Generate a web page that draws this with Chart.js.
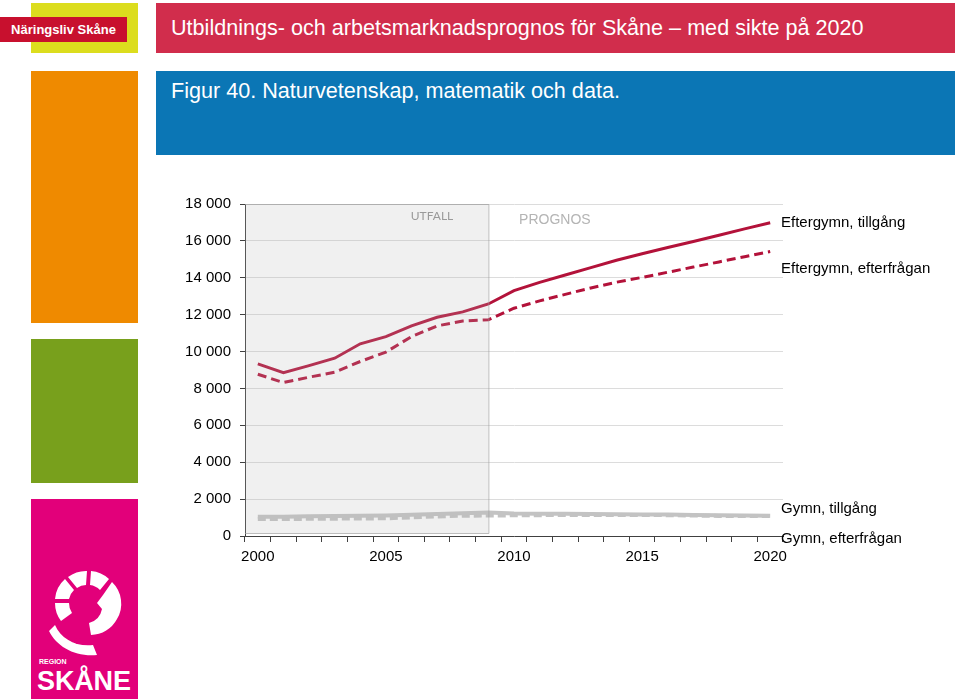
<!DOCTYPE html>
<html lang="sv">
<head>
<meta charset="utf-8">
<title>Figur 40. Naturvetenskap, matematik och data.</title>
<script src="https://cdn.jsdelivr.net/npm/chart.js@4.4.1/dist/chart.umd.min.js"></script>
<style>
  body { margin: 0; background: #fff; font-family: "Liberation Sans", Arial, sans-serif; }
  .page { position: relative; width: 960px; height: 700px; overflow: hidden; }
  .blk { position: absolute; }
  .yellow { left: 31px; top: 3px; width: 107px; height: 50px; background: #dcdd1e; }
  .logo1 { left: 0; top: 17px; width: 127px; height: 25px; background: #c8102e; color: #fff;
    font: bold 13px "Liberation Sans Narrow", "Liberation Sans", Arial, sans-serif; line-height: 25px; text-align: center; }
  .orange { left: 31px; top: 71px; width: 107px; height: 252px; background: #ef8a00; }
  .green { left: 31px; top: 339px; width: 107px; height: 144px; background: #78a01c; }
  .magenta { left: 31px; top: 499px; width: 107px; height: 200px; background: #e2007a; }
  .head { left: 156px; top: 3px; width: 799px; height: 50px; background: #d12d4c; color: #fff;
    font-size: 21.6px; line-height: 50px; padding-left: 15px; box-sizing: border-box; }
  .fig { left: 156px; top: 71px; width: 799px; height: 84px; background: #0b76b5; color: #fff;
    font-size: 21.6px; padding: 7px 0 0 15px; box-sizing: border-box; }
  #chartBox { position: absolute; left: 0; top: 0; width: 960px; height: 700px; }
</style>
</head>
<body>
<div class="page">
  <div class="blk yellow"></div>
  <div class="blk logo1">Näringsliv Skåne</div>
  <div class="blk orange"></div>
  <div class="blk green"></div>
  <div class="blk magenta">
    <svg width="107" height="200" viewBox="0 0 107 200">
      <g fill="#fff">
        <path d="M30 122 A30 30 0 0 1 24 104 L38 104 A17 17 0 0 0 41 114 Z"/>
        <path d="M24 100 A30 30 0 0 1 34 80 L43 91 A17 17 0 0 0 38 100 Z"/>
        <path d="M37 78 A30 30 0 0 1 56 72 L55 86 A17 17 0 0 0 46 89 Z"/>
        <path d="M60 72 A30 30 0 0 1 78 80 L69 91 A17 17 0 0 0 59 86 Z"/>
        <path d="M81 83 A30 30 0 0 1 86 120 A30 30 0 0 1 60 136 L58 124 A18 18 0 0 0 71 110 L66 104 L72 96 Z"/>
        <path d="M24 126 C30 140 45 148 62 146 L66 156 C44 158 26 148 18 132 Z"/>
        <circle cx="47" cy="142" r="3" fill="#e2007a"/>
      </g>
      <text x="8" y="165" fill="#fff" font-size="7" font-weight="bold" font-family="Liberation Sans, Arial">REGION</text>
      <text x="6" y="191" fill="#fff" font-size="27" font-weight="bold" font-family="Liberation Sans Narrow, Liberation Sans, Arial" textLength="94">SKÅNE</text>
    </svg>
  </div>
  <div class="blk head">Utbildnings- och arbetsmarknadsprognos för Skåne – med sikte på 2020</div>
  <div class="blk fig">Figur 40. Naturvetenskap, matematik och data.</div>
  <div id="chartBox"><canvas id="chart" width="960" height="700"></canvas></div>
</div>
<script>
// Years on the category axis
const years = ["2000", "2001", "2002", "2003", "2004", "2005", "2006", "2007", "2008", "2009", "2010",
  "2011", "2012", "2013", "2014", "2015", "2016", "2017", "2018", "2019", "2020"];
const shownYears = ["2000", "2005", "2010", "2015", "2020"];

// Series values
const eftergymnTillgang = [9330, 8860, 9240, 9640, 10420, 10810, 11390, 11860, 12150, 12580, 13300,
  13750, 14150, 14550, 14950, 15300, 15640, 15970, 16310, 16650, 16980];
const eftergymnEfterfragan = [8770, 8320, 8610, 8880, 9460, 9970, 10810, 11390, 11660, 11720, 12350,
  12750, 13100, 13450, 13760, 14020, 14300, 14580, 14860, 15140, 15420];
const gymnTillgang = [1050, 1050, 1070, 1090, 1100, 1110, 1150, 1190, 1230, 1270, 1220,
  1210, 1200, 1190, 1180, 1170, 1160, 1140, 1120, 1110, 1100];
const gymnEfterfragan = [920, 920, 930, 940, 950, 960, 1010, 1060, 1100, 1110, 1120,
  1130, 1140, 1140, 1140, 1140, 1130, 1110, 1090, 1080, 1080];

const seriesNames = ["Eftergymn, tillgång", "Eftergymn, efterfrågan", "Gymn, tillgång", "Gymn, efterfrågan"];
const lastOutcomeYear = "2009";

// "18 000" style tick labels
function fmt(v) {
  return String(v).replace(/\B(?=(\d{3})+(?!\d))/g, " ");
}

const red = "#b3123a";
const grey = "#c3c3c3";

// Shaded "UTFALL" box plus labels drawn over the lines
const overlayPlugin = {
  id: "overlay",
  afterDatasetsDraw(chart) {
    const { ctx, chartArea, scales } = chart;
    const x = scales.x, y = scales.y;
    const right = x.getPixelForValue(years.indexOf(lastOutcomeYear));
    const bottom = y.getPixelForValue(0) - 3;
    ctx.save();
    ctx.fillStyle = "rgba(180,180,180,0.2)";
    ctx.fillRect(chartArea.left, chartArea.top, right - chartArea.left, bottom - chartArea.top);
    ctx.strokeStyle = "rgba(160,160,160,0.7)";
    ctx.lineWidth = 1;
    ctx.beginPath();
    ctx.moveTo(chartArea.left, chartArea.top + 0.5);
    ctx.lineTo(right + 0.5, chartArea.top + 0.5);
    ctx.lineTo(right + 0.5, bottom + 0.5);
    ctx.lineTo(chartArea.left, bottom + 0.5);
    ctx.stroke();

    ctx.textBaseline = "middle";
    ctx.fillStyle = "#9a9a9a";
    ctx.font = "12px Lato, 'Open Sans', sans-serif";
    ctx.textAlign = "center";
    ctx.fillText("UTFALL", x.getPixelForValue(6.8), y.getPixelForValue(17350));
    ctx.fillStyle = "#b4b4b4";
    ctx.font = "14px 'Liberation Sans', Arial, sans-serif";
    ctx.textAlign = "left";
    ctx.fillText("PROGNOS", x.getPixelForValue(10.2), y.getPixelForValue(17150));

    // series names at the right end, nudged apart like the original
    const nudge = [0, 17, -7, 23];
    ctx.fillStyle = "#000";
    ctx.font = "15px 'Liberation Sans', Arial, sans-serif";
    chart.data.datasets.forEach(function (ds, i) {
      const last = ds.data[ds.data.length - 1];
      ctx.fillText(ds.label, chartArea.right - 2, y.getPixelForValue(last) + nudge[i]);
    });
    ctx.restore();
  },
};

let ctx = document.getElementById("chart").getContext("2d");

let data = {
  labels: years,
  datasets: [
    { label: seriesNames[0], data: eftergymnTillgang, borderColor: red, borderWidth: 3 },
    { label: seriesNames[1], data: eftergymnEfterfragan, borderColor: red, borderWidth: 3, borderDash: [9, 5] },
    { label: seriesNames[2], data: gymnTillgang, borderColor: grey, borderWidth: 4 },
    { label: seriesNames[3], data: gymnEfterfragan, borderColor: grey, borderWidth: 4, borderDash: [8, 4] },
  ],
};

let options = {
  responsive: false,
  animation: false,
  layout: { padding: { left: 160, top: 204, right: 177, bottom: 130 } },
  elements: {
    point: { radius: 0 },
    line: { tension: 0, fill: false, borderCapStyle: "butt" },
  },
  plugins: {
    legend: { display: false },
    tooltip: { enabled: false },
  },
  scales: {
    x: {
      offset: true,
      grid: { offset: true, drawOnChartArea: false, tickLength: 6, tickColor: "#404040" },
      border: { color: "#404040", width: 1 },
      ticks: {
        autoSkip: false,
        maxRotation: 0,
        padding: 6,
        color: "#000",
        font: { family: "'Liberation Sans', Arial, sans-serif", size: 15 },
        callback: function (v, i) {
          return shownYears.includes(years[i]) ? years[i] : "";
        },
      },
      afterFit: function (scale) { scale.height = 34; },
    },
    y: {
      min: 0,
      max: 18000,
      grid: { color: "#dcdcdc", tickLength: 5, tickColor: "#404040" },
      border: { color: "#404040", width: 1 },
      ticks: {
        stepSize: 2000,
        padding: 9,
        color: "#000",
        font: { family: "'Liberation Sans', Arial, sans-serif", size: 15 },
        callback: function (v) { return fmt(v); },
      },
      afterFit: function (scale) { scale.width = 85; },
    },
  },
};

let chart = new Chart(ctx, {
  type: "line",
  data: data,
  options: options,
  plugins: [overlayPlugin],
});
</script>
</body>
</html>
